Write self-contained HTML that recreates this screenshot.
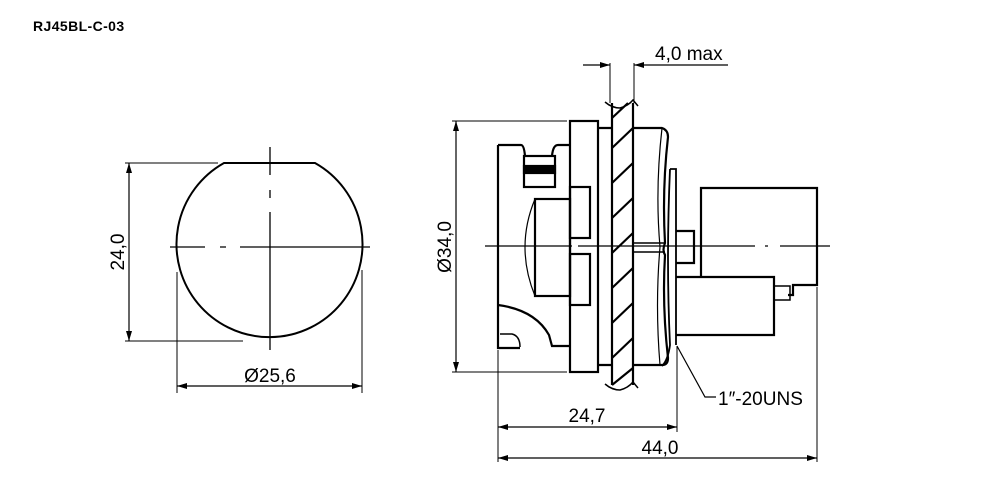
<!DOCTYPE html>
<html><head><meta charset="utf-8"><style>
html,body{margin:0;padding:0;background:#fff}
svg{display:block}
text{font-family:"Liberation Sans","DejaVu Sans",sans-serif;fill:#000}
</style></head><body>
<svg width="1000" height="500" viewBox="0 0 1000 500" xmlns="http://www.w3.org/2000/svg">
<defs>
<marker id="a" viewBox="0 0 10 6" refX="10" refY="3" markerWidth="10" markerHeight="6" orient="auto-start-reverse" markerUnits="userSpaceOnUse"><path d="M0,0 L10,3 L0,6 Z" fill="#000"/></marker>
</defs>
<text x="33" y="31" font-size="14" font-weight="bold" letter-spacing="0.4">RJ45BL-C-03</text>

<!-- LEFT VIEW -->
<g fill="none" stroke="#000">
<path d="M224,163 L315,163 A93,93 0 1 1 224,163 Z" stroke-width="2"/>
<path d="M170,247 H205 M220,247 H226 M240,247 H370" stroke-width="1.3"/>
<path d="M270,147 V175 M270,190 V198 M270,212 V350" stroke-width="1.3"/>
<path d="M125,163 H218 M125,341 H243" stroke-width="1"/>
<line x1="129" y1="163" x2="129" y2="341" stroke-width="1.2" marker-start="url(#a)" marker-end="url(#a)"/>
<path d="M177,272 V393 M362,270 V393" stroke-width="1"/>
<line x1="177" y1="386" x2="362" y2="386" stroke-width="1.2" marker-start="url(#a)" marker-end="url(#a)"/>
</g>
<text x="0" y="0" font-size="19" text-anchor="middle" transform="translate(124,252) rotate(-90)">24,0</text>
<text x="270" y="382" font-size="19" text-anchor="middle">Ø25,6</text>

<!-- RIGHT VIEW -->
<g fill="none" stroke="#000" stroke-width="2.2">
<path d="M498,145 H521 Q524,145 525,156 M498,145 V348 H520 M552,156 Q553,145 558,145 H570"/>
<rect x="524" y="156" width="31" height="31"/>
<rect x="524" y="166" width="31" height="7" fill="#000"/>
<rect x="535" y="199" width="35" height="97"/>
<path d="M535,199 Q515,247 535,296" stroke-width="1.2"/>
<path d="M498,305 Q535,310 549,335 L552,346 H570"/>
<path d="M500,334 H512 Q520,336 520,347" stroke-width="1.5"/>
<rect x="570" y="121" width="28" height="251"/>
<rect x="570" y="187" width="20" height="51"/>
<rect x="570" y="254" width="20" height="51"/>
<path d="M598,128 H612 M598,365 H612"/>
<path d="M612,103 V385 M633,103 V385"/>
<path d="M605,102 Q612,108 620,108 Q628,106 633,100 L638,106" stroke-width="1.5"/>
<path d="M605,384 Q612,390 620,390 Q628,388 633,382 L638,388" stroke-width="1.5"/>
<path d="M612,148 L633,128 M612,183 L633,163 M612,218 L633,198 M612,253 L633,233 M612,288 L633,268 M612,323 L633,303 M612,358 L633,338 M612,385 L633,368 M612,118 L628,103"/>
<path d="M633,128 H662 Q668,130 668,137 Q662,190 665,243 Q662,250 665,255 Q662,305 668,358 Q668,365 662,365 H633"/>
<path d="M633,243 H665 M633,252 H665" stroke-width="1.5"/>
<path d="M662,128 Q655,190 660,247 Q655,305 660,365" stroke-width="1.2"/>
<path d="M670,169 H676 V345 M670,169 Q666,260 670,345 Q668,360 662,366" stroke-width="1.8"/>
<path d="M676,231 H694 V263 H676"/>
<path d="M701,276 V188 H817 V285 H793 V295 H788"/>
<path d="M676,277 H774 V335 H676"/>
<path d="M774,286 H790 V300 H774" stroke-width="1.5"/>
</g>
<g fill="none" stroke="#000" stroke-width="1.3">
<path d="M485,246 H572 M578,246 H755 M765,246 H768 M780,246 H830"/>
</g>
<g fill="none" stroke="#000" stroke-width="1">
<path d="M452,121 H567 M452,372 H567"/>
<path d="M610,63 V103 M634,63 V103"/>
<path d="M817,287 V462 M677,346 V432 M498,350 V462"/>
<path d="M677,346 L705,397 H716" stroke-width="1.2"/>
</g>
<g stroke="#000" stroke-width="1.2">
<line x1="456" y1="121" x2="456" y2="372" marker-start="url(#a)" marker-end="url(#a)"/>
<line x1="583" y1="65" x2="610" y2="65" marker-end="url(#a)"/>
<line x1="728" y1="65" x2="634" y2="65" marker-end="url(#a)"/>
<line x1="498" y1="427" x2="677" y2="427" marker-start="url(#a)" marker-end="url(#a)"/>
<line x1="498" y1="458" x2="817" y2="458" marker-start="url(#a)" marker-end="url(#a)"/>
</g>
<text x="0" y="0" font-size="19" text-anchor="middle" transform="translate(451,247) rotate(-90)">Ø34,0</text>
<text x="655" y="60" font-size="19">4,0 max</text>
<text x="587" y="422" font-size="19" text-anchor="middle">24,7</text>
<text x="660" y="454" font-size="19" text-anchor="middle">44,0</text>
<text x="718" y="405" font-size="19">1″-20UNS</text>
</svg>
</body></html>
